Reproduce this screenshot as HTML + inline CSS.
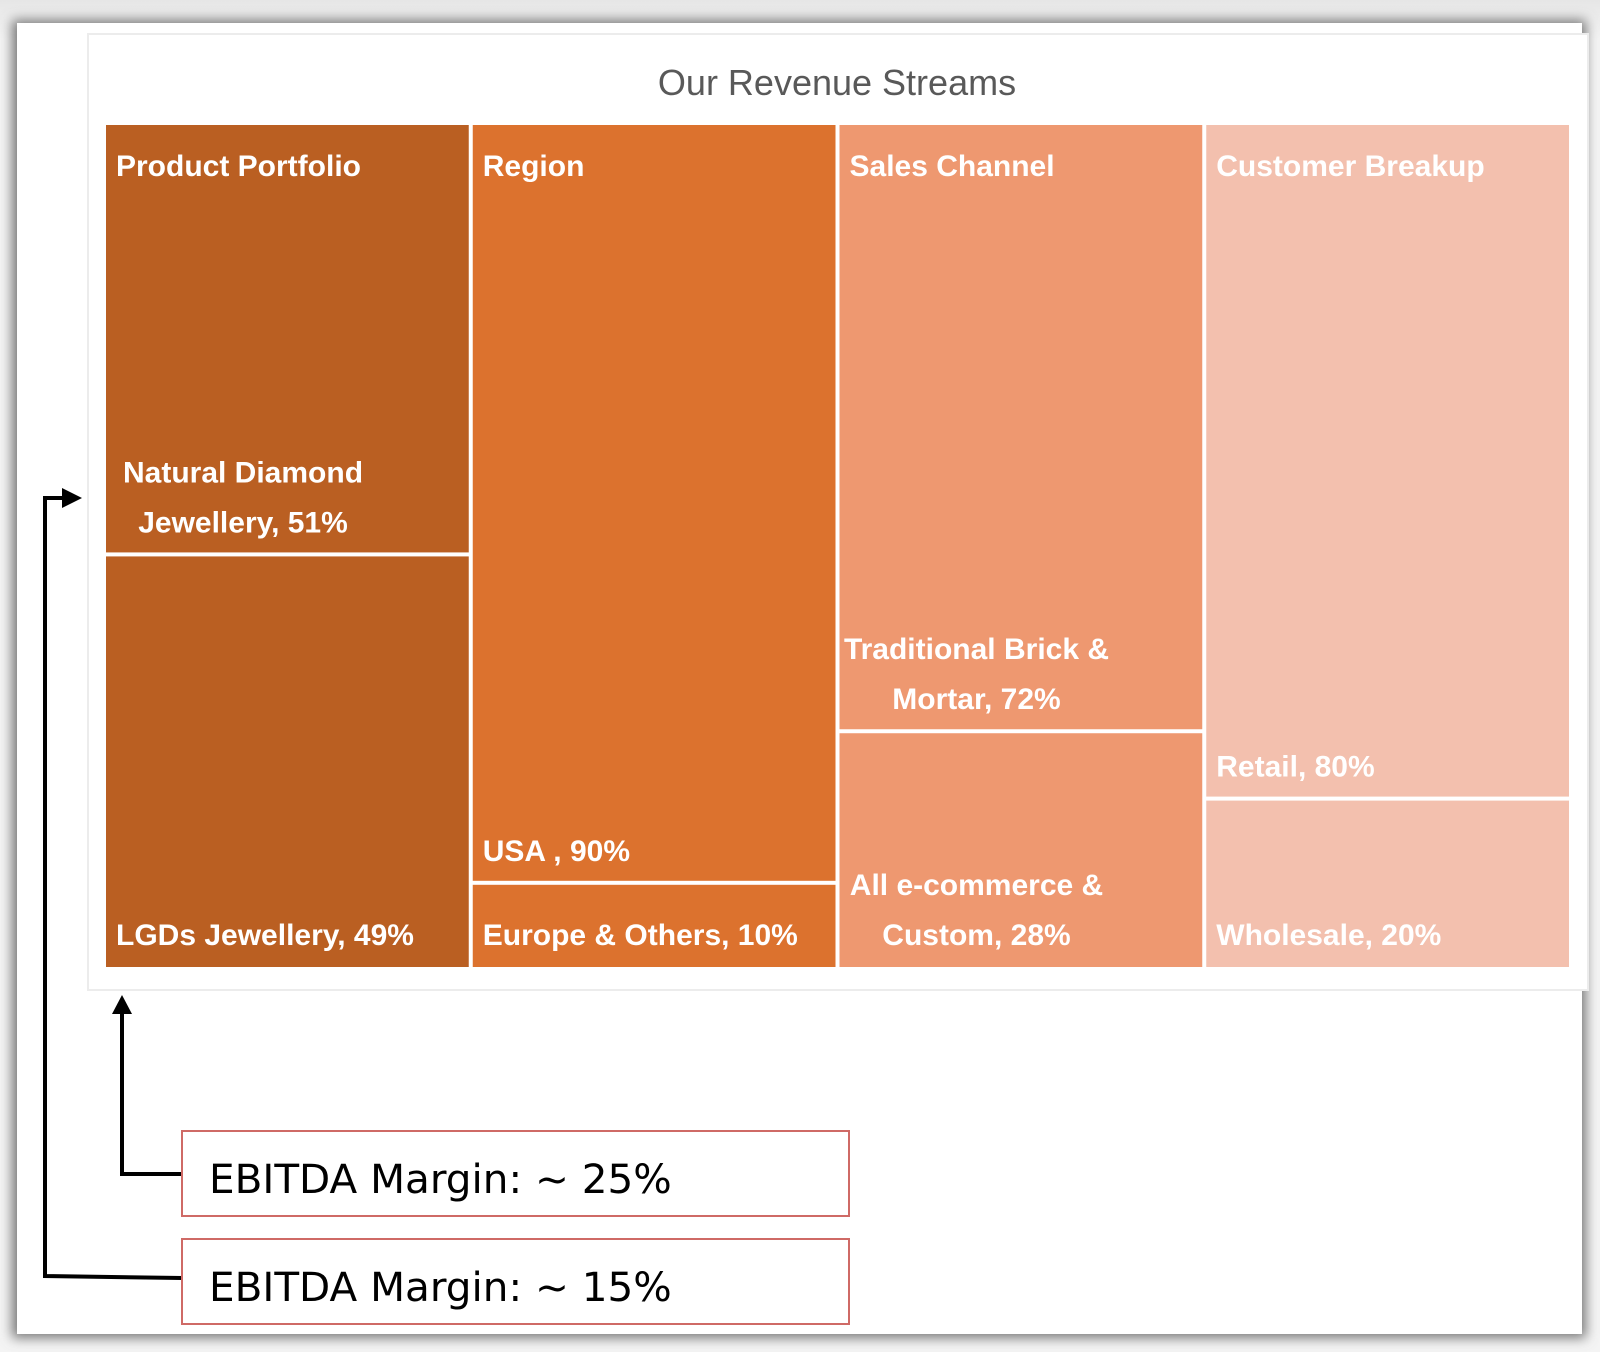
<!DOCTYPE html>
<html><head><meta charset="utf-8"><style>
html,body{margin:0;padding:0;background:#f2f2f2;}
#wrap{position:relative;width:1600px;height:1352px;overflow:hidden;background:linear-gradient(#e6e6e6,#f4f4f4 40px,#f4f4f4);}
svg{position:absolute;left:0;top:0;}
.lbl{font-family:"Liberation Sans",sans-serif;font-weight:bold;fill:#fff;font-size:30px;}
.eb{font-family:"DejaVu Sans","Liberation Sans",sans-serif;font-size:40.5px;fill:#000;}
</style></head><body>
<div id="wrap">
<svg id="chart" width="1600" height="1352" viewBox="0 0 1600 1352">
<defs><filter id="sh" x="-5%" y="-5%" width="110%" height="110%"><feGaussianBlur stdDeviation="6"/></filter></defs>
<rect x="12" y="20" width="1574" height="1318" fill="#777" filter="url(#sh)"/>
<rect x="17" y="23" width="1565" height="1311" fill="#fff"/>
<rect x="88" y="34" width="1500" height="956" fill="#fff" stroke="#ececec" stroke-width="2"/>
<text x="837" y="95" text-anchor="middle" font-family="Liberation Sans, sans-serif" font-size="36" fill="#595959">Our Revenue Streams</text>
<g id="tiles"></g>
<g id="conn" stroke="#000" stroke-width="4" fill="none">
<polyline points="182,1174 122,1174 122,1010"/>
<polyline points="182,1278 45,1276 45,498 66,498"/>
</g>
<polygon points="122,995 112,1014 132,1014" fill="#000"/>
<polygon points="82,498 62,488 62,508" fill="#000"/>
<rect x="182" y="1131" width="667" height="85" fill="#fff" stroke="#cf6a66" stroke-width="2"/>
<text class="eb" x="209" y="1193">EBITDA Margin: ~ 25%</text>
<rect x="182" y="1239" width="667" height="85" fill="#fff" stroke="#cf6a66" stroke-width="2"/>
<text class="eb" x="209" y="1301">EBITDA Margin: ~ 15%</text>
</svg>
</div>
<script>
const groups = ["Product Portfolio","Region","Sales Channel","Customer Breakup"];
const topLabels = [["Natural Diamond","Jewellery, 51%"],["USA , 90%"],["Traditional Brick &","Mortar, 72%"],["Retail, 80%"]];
const bottomLabels = [["LGDs Jewellery, 49%"],["Europe & Others, 10%"],["All e-commerce &","Custom, 28%"],["Wholesale, 20%"]];
const topShare = [51,90,72,80];
const colors = ["#BA5F22","#DC722E","#EE9870","#F3C0AE"];
const X0=106,X1=1573,Y0=125,Y1=967,GAP=4;
const colW=(X1-X0)/groups.length;
const yScale=v=>Y0+(Y1-Y0)*v/100;
const g=document.getElementById('tiles');
const NS="http://www.w3.org/2000/svg";
function txt(lines,x,y){
  lines.forEach((s,i)=>{
    const t=document.createElementNS(NS,'text');
    t.setAttribute('class','lbl');
    
    
    if(lines.length>1){t.setAttribute('x',x+127);t.setAttribute('text-anchor','middle');}
    else t.setAttribute('x',x);
    t.setAttribute('y',y-(lines.length-1-i)*50);
    t.textContent=s;g.appendChild(t);
  });
}
groups.forEach((name,i)=>{
  const x=X0+i*colW, w=colW-GAP, ys=yScale(topShare[i]);
  const r1=document.createElementNS(NS,'rect');
  r1.setAttribute('x',x);r1.setAttribute('y',Y0);r1.setAttribute('width',w);r1.setAttribute('height',ys-Y0-GAP/2);
  r1.setAttribute('fill',colors[i]);
  
  
  g.appendChild(r1);
  const r2=document.createElementNS(NS,'rect');
  r2.setAttribute('x',x);r2.setAttribute('y',ys+GAP/2);r2.setAttribute('width',w);r2.setAttribute('height',Y1-ys-GAP/2);
  r2.setAttribute('fill',colors[i]);
  
  
  g.appendChild(r2);
  const h=document.createElementNS(NS,'text');
  h.setAttribute('class','lbl');h.setAttribute('x',x+10);h.setAttribute('y',Y0+51);
  
  
  h.textContent=name;g.appendChild(h);
  txt(topLabels[i],x+10,ys-22);
  txt(bottomLabels[i],x+10,Y1-22);
});
</script>
</body></html>
